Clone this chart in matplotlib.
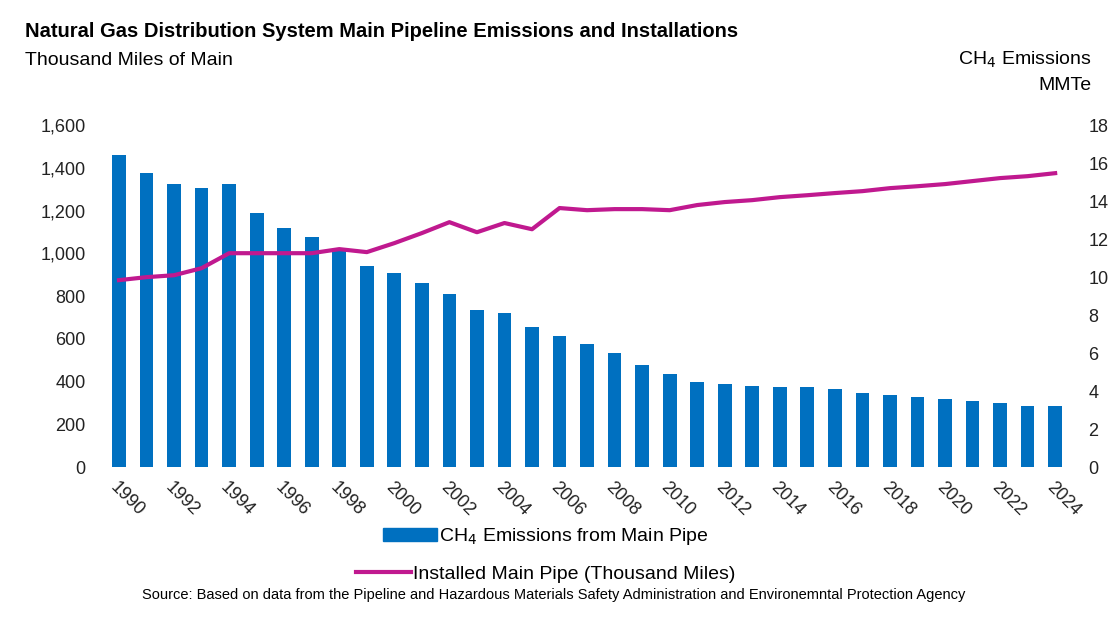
import numpy as np
import matplotlib.pyplot as plt

years = list(range(1990, 2025))
emissions = [16.4, 15.5, 14.9, 14.7, 14.9, 13.4, 12.6, 12.1, 11.5, 10.6,
             10.2, 9.7, 9.1, 8.3, 8.1, 7.4, 6.9, 6.5, 6.0, 5.4,
             4.9, 4.5, 4.4, 4.3, 4.2, 4.2, 4.1, 3.9, 3.8, 3.7,
             3.6, 3.5, 3.4, 3.2, 3.2]
main_miles = [875, 889, 898, 931, 1001, 1001, 1001, 1001, 1020, 1006,
              1048, 1095, 1146, 1099, 1142, 1113, 1212, 1202, 1207, 1207,
              1202, 1226, 1240, 1249, 1263, 1272, 1282, 1291, 1305, 1314,
              1324, 1338, 1352, 1361, 1375]

plt.rcParams['font.family'] = ['Liberation Sans', 'DejaVu Sans']
blue = '#0070C0'
pink = '#C0198F'

fig = plt.figure(figsize=(11.14, 6.19), dpi=100)
ax = fig.add_axes([0.092, 0.245, 0.87, 0.553])
ax2 = ax.twinx()

x = np.arange(len(years))
ax.set_zorder(2)
ax.patch.set_visible(False)
ax2.bar(x, emissions, width=0.5, color=blue, zorder=1)
ax.plot(x, main_miles, color=pink, lw=3)

ax.set_ylim(0, 1600)
ax.set_yticks(range(0, 1601, 200))
ax.set_yticklabels([f'{v:,}' for v in range(0, 1601, 200)])
ax2.set_ylim(0, 18)
ax2.set_yticks(range(0, 19, 2))
ax.set_xlim(-0.6, len(years) - 0.4)
ax.set_xticks(x[::2])
ax.set_xticklabels([str(y) for y in years[::2]], rotation=-45, ha='left',
                   rotation_mode='anchor')
for a in (ax, ax2):
    for s in a.spines.values():
        s.set_visible(False)
    a.tick_params(length=0, labelsize=13, colors='#222222')
ax.tick_params(axis='y', pad=12)
ax2.tick_params(axis='y', pad=12)
ax.tick_params(axis='x', pad=8)

fig.text(0.022, 0.94, 'Natural Gas Distribution System Main Pipeline Emissions and Installations',
         fontsize=14.5, fontweight='bold')
fig.text(0.022, 0.895, 'Thousand Miles of Main', fontsize=14)
fig.text(0.98, 0.895, 'CH$_4$ Emissions', fontsize=14, ha='right')
fig.text(0.98, 0.855, 'MMTe', fontsize=14, ha='right')

from matplotlib.patches import Patch
from matplotlib.lines import Line2D
fig.legend(handles=[Patch(color=blue, label='CH$_4$ Emissions from Main Pipe')],
           loc='center', bbox_to_anchor=(0.49, 0.133), frameon=False, fontsize=14,
           handlelength=2.8, handletextpad=0.1)
fig.legend(handles=[Line2D([], [], color=pink, lw=3, label='Installed Main Pipe (Thousand Miles)')],
           loc='center', bbox_to_anchor=(0.49, 0.072), frameon=False, fontsize=14,
           handlelength=2.8, handletextpad=0.1)
fig.text(0.497, 0.033, 'Source: Based on data from the Pipeline and Hazardous Materials Safety '
         'Administration and Environemntal Protection Agency', fontsize=10.5, ha='center')

fig.savefig('out.png', dpi=100)
